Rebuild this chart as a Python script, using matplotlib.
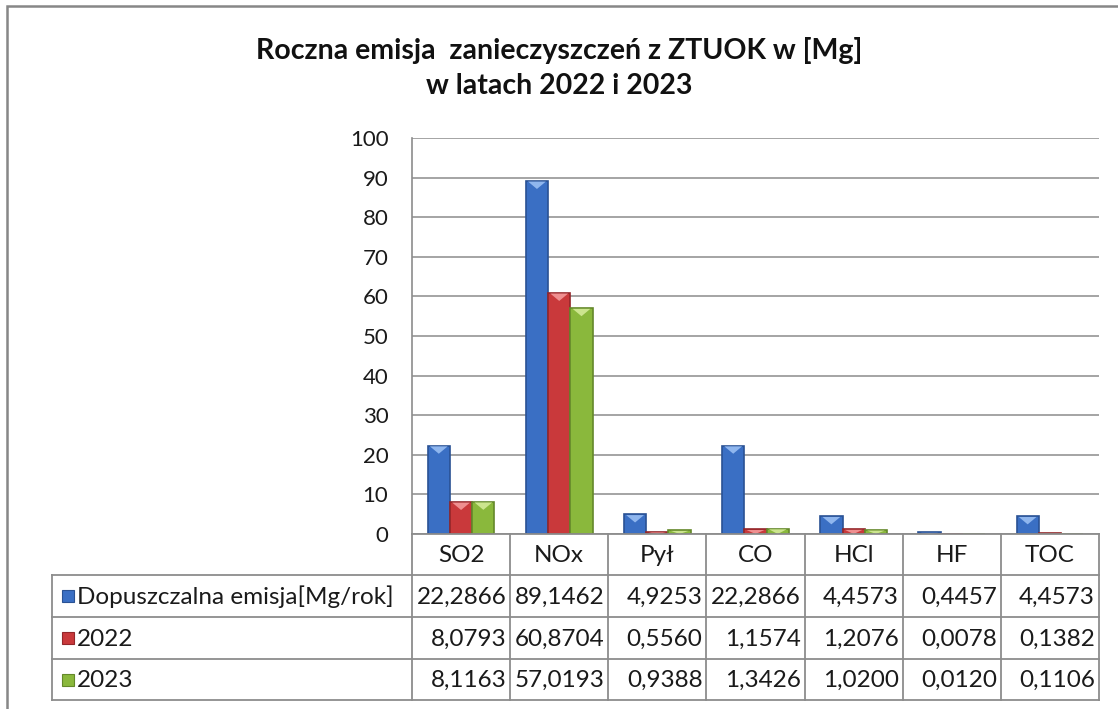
import matplotlib
matplotlib.use("Agg")
import matplotlib.pyplot as plt
from matplotlib.patches import Rectangle, Polygon
from matplotlib.lines import Line2D

categories = ["SO2", "NOx", "Pył", "CO", "HCl", "HF", "TOC"]
series_names = ["Dopuszczalna emisja[Mg/rok]", "2022", "2023"]
dopuszczalna = [22.2866, 89.1462, 4.9253, 22.2866, 4.4573, 0.4457, 4.4573]
y2022 = [8.0793, 60.8704, 0.5560, 1.1574, 1.2076, 0.0078, 0.1382]
y2023 = [8.1163, 57.0193, 0.9388, 1.3426, 1.0200, 0.0120, 0.1106]
yticks = [0, 10, 20, 30, 40, 50, 60, 70, 80, 90, 100]
title = "Roczna emisja  zanieczyszczeń z ZTUOK w [Mg]\nw latach 2022 i 2023"

series = [dopuszczalna, y2022, y2023]
colors = ["#3a6fc4", "#c9393b", "#8ab83c"]
edges = ["#2a5294", "#93262a", "#64882a"]
lights = ["#8fb6ee", "#ef8f90", "#cce58e"]

W, H = 1118, 709
fig = plt.figure(figsize=(W / 100, H / 100), dpi=100)
FONT = "Lato"
plt.rcParams["font.family"] = [FONT, "DejaVu Sans"]
TXT = "#1a1a1a"

def fx(px):
    return px / W

def fy(py):
    return 1 - py / H

# outer frame (only left and top visible in the crop)
fig.patches.append(Rectangle((fx(7), fy(720)), fx(1130) - fx(7), fy(6) - fy(720),
                             transform=fig.transFigure, fill=False,
                             edgecolor="#878787", linewidth=1.8, clip_on=False))

# geometry (pixels)
ax_l, ax_r, ax_t, ax_b = 412, 1099, 138, 534
tab_l = 52
row_lines = [534, 575, 617, 659, 700]

ax = fig.add_axes([fx(ax_l), fy(ax_b), fx(ax_r) - fx(ax_l), fy(ax_t) - fy(ax_b)])
ax.set_xlim(-0.5, len(categories) - 0.5)
ax.set_ylim(0, 100)
ax.set_yticks(yticks)
ax.set_yticklabels([str(t) for t in yticks], fontsize=16, color=TXT)
ax.tick_params(axis="y", length=0, pad=17)
ax.set_xticks([])
for s in ["top", "right", "bottom"]:
    ax.spines[s].set_visible(False)
ax.spines["left"].set_color("#8c8c8c")
ax.spines["left"].set_linewidth(1.2)
ax.yaxis.grid(True, color="#8c8c8c", linewidth=1.1)
ax.set_axisbelow(True)

bw = 0.227
px_per_unit = (ax_b - ax_t) / 100.0
for i, (vals, c, e, lc) in enumerate(zip(series, colors, edges, lights)):
    xs = [k + (i - 1) * bw for k in range(len(categories))]
    bars = ax.bar(xs, vals, width=bw, color=c, edgecolor=e, linewidth=1.2, zorder=3)
    for p in bars:
        x0, w, h = p.get_x(), p.get_width(), p.get_height()
        dy = min(8 / px_per_unit, h)
        inset = w * 0.1
        tri = Polygon([(x0 + inset, h - 0.15), (x0 + w - inset, h - 0.15), (x0 + w / 2, h - dy)],
                      closed=True, facecolor=lc, edgecolor="none", zorder=4)
        ax.add_patch(tri)

# table lines
grid_c = "#8c8c8c"
col_w = (ax_r - ax_l) / len(categories)
col_edges = [ax_l + k * col_w for k in range(len(categories) + 1)]
for yy in row_lines:
    x_start = ax_l if yy == row_lines[0] else tab_l
    fig.add_artist(Line2D([fx(x_start), fx(ax_r)], [fy(yy), fy(yy)], color=grid_c, linewidth=1.3))
for k, xx in enumerate(col_edges):
    fig.add_artist(Line2D([fx(xx), fx(xx)], [fy(row_lines[0]), fy(row_lines[-1])], color=grid_c, linewidth=1.3))
fig.add_artist(Line2D([fx(tab_l), fx(tab_l)], [fy(row_lines[1]), fy(row_lines[-1])], color=grid_c, linewidth=1.3))

# category labels
for k, cat in enumerate(categories):
    cx = (col_edges[k] + col_edges[k + 1]) / 2
    cy = (row_lines[0] + row_lines[1]) / 2
    fig.text(fx(cx), fy(cy + 1), cat, ha="center", va="center", fontsize=17.5, color=TXT)

# rows
for r, (name, vals, c, e) in enumerate(zip(series_names, series, colors, edges)):
    cy = (row_lines[r + 1] + row_lines[r + 2]) / 2
    fig.patches.append(Rectangle((fx(62), fy(cy + 6)), fx(12), fy(0) - fy(12),
                                 transform=fig.transFigure, facecolor=c, edgecolor=e, linewidth=0.8))
    fig.text(fx(77), fy(cy + 1), name, ha="left", va="center", fontsize=17.5, color=TXT)
    for k, v in enumerate(vals):
        s = f"{v:.4f}".replace(".", ",")
        fig.text(fx(col_edges[k + 1] - 4), fy(cy + 1), s, ha="right", va="center", fontsize=17.5, color=TXT)

fig.text(0.5, fy(68), title, ha="center", va="center", fontsize=20.5, fontweight="bold",
         color="#111111", linespacing=1.4)

fig.savefig("out.png", dpi=100)
